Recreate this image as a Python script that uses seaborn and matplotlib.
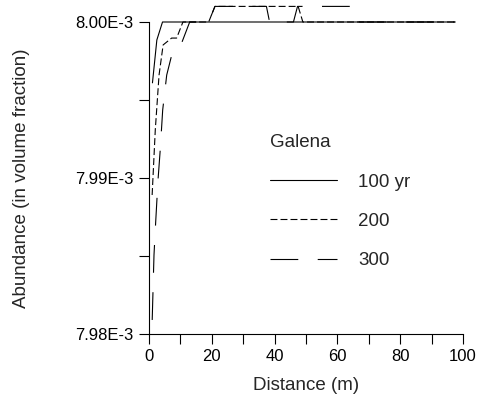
import numpy as np
import pandas as pd
import seaborn as sns
import matplotlib
matplotlib.use("Agg")
import matplotlib.pyplot as plt

# Galena abundance (volume fraction) vs distance
x_100 = [1.1, 2.5, 4.3, 97.5]
y_100 = [7.9961e-3, 7.99885e-3, 8.000e-3, 8.000e-3]

x_200 = [1.0, 2.0, 3.2, 4.5, 7.2, 8.8, 10.8, 19.0, 21.0, 47.5, 49.0, 97.5]
y_200 = [7.98891e-3, 7.99308e-3, 7.99660e-3, 7.99853e-3, 7.99897e-3, 7.99897e-3,
         8.000e-3, 8.000e-3, 8.001e-3, 8.001e-3, 8.000e-3, 8.000e-3]

x_300 = [1.02, 1.59, 2.13, 2.87, 3.57, 4.36, 5.64, 7.23, 9.78, 12.96,
         19.0, 21.0, 37.4, 38.4, 46.0, 47.3, 65.0, 67.0, 97.5]
y_300 = [7.98090e-3, 7.98506e-3, 7.98718e-3, 7.98987e-3, 7.99179e-3, 7.99436e-3,
         7.99660e-3, 7.99788e-3, 7.99833e-3, 8.000e-3,
         8.000e-3, 8.001e-3, 8.001e-3, 8.000e-3, 8.000e-3, 8.001e-3, 8.001e-3,
         8.000e-3, 8.000e-3]

labels = ["100 yr", "200", "300"]

df = pd.concat([
    pd.DataFrame({"x": x_100, "y": y_100, "t": labels[0]}),
    pd.DataFrame({"x": x_200, "y": y_200, "t": labels[1]}),
    pd.DataFrame({"x": x_300, "y": y_300, "t": labels[2]}),
])

sns.set_style("ticks")
plt.rcParams["font.family"] = ["Liberation Sans", "DejaVu Sans"]
plt.rcParams["lines.scale_dashes"] = False

fig = plt.figure(figsize=(4.83, 3.98), dpi=100)
ax = fig.add_axes([149 / 483, 1 - 334 / 398, 314 / 483, 312 / 398])

dashes = {labels[0]: "", labels[1]: (5, 2.2), labels[2]: (20, 14)}
sns.lineplot(data=df, x="x", y="y", style="t", dashes=dashes, color="black",
             estimator=None, sort=False, lw=0.8, ax=ax, clip_on=False)

ax.set_xlim(0, 100)
ax.set_ylim(7.98e-3, 8.00e-3)
xt = np.arange(0, 101, 10)
ax.set_xticks(xt)
ax.set_xticklabels([str(v) if v % 20 == 0 else "" for v in xt])
yt = [7.98e-3, 7.985e-3, 7.99e-3, 7.995e-3, 8.00e-3]
ax.set_yticks(yt)
ax.set_yticklabels(["7.98E-3", "", "7.99E-3", "", "8.00E-3"])
ax.tick_params(axis="both", labelsize=12, length=7, width=0.8, color="black",
               labelcolor="black", pad=4)
sns.despine(ax=ax)
for s in ["left", "bottom"]:
    ax.spines[s].set_linewidth(0.8)
    ax.spines[s].set_color("black")

ax.set_xlabel("Distance (m)", fontsize=13.5, labelpad=9)
ax.set_ylabel("Abundance (in volume fraction)", fontsize=13.5, labelpad=33)

leg = ax.legend(title="Galena", loc="upper left", bbox_to_anchor=(0.385, 0.64),
                frameon=False, fontsize=13.5, title_fontsize=13.5,
                borderpad=0, borderaxespad=0,
                handlelength=3.6, handletextpad=1.1, labelspacing=1.18)
leg._legend_box.align = "left"
for h in leg.legend_handles:
    h.set_linewidth(0.8)

fig.savefig("out.png", dpi=100)
